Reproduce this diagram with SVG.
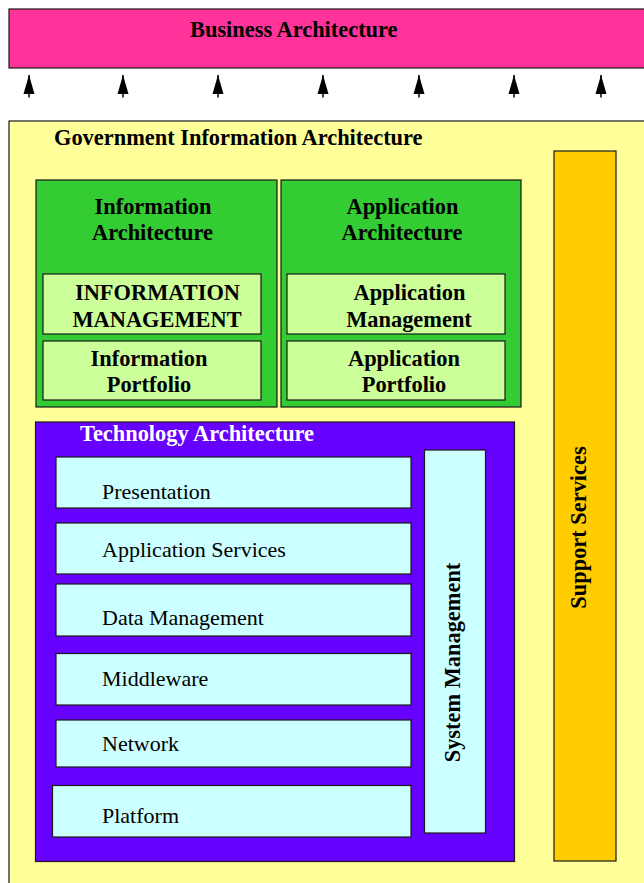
<svg xmlns="http://www.w3.org/2000/svg" width="644" height="883" viewBox="0 0 644 883">
<style>
.box{stroke:#1a1a1a;stroke-width:1.2}
.t{font-family:"Liberation Serif","Times New Roman",serif;font-size:22px;fill:#000}
.b{font-weight:bold;font-size:22.4px}
.c{text-anchor:middle}
</style>
<defs>
<marker id="ah" markerWidth="19" markerHeight="12" refX="19" refY="6" orient="auto" markerUnits="userSpaceOnUse" viewBox="0 0 19 12">
<path d="M19,6 L0,0.5 L0,11.5 Z" fill="#000"/>
</marker>
</defs>
<rect width="644" height="883" fill="#fff"/>
<g id="business">
<rect class="box" x="9" y="9" width="650" height="59" fill="#FF3399"/>
<text class="t b" x="190" y="37">Business Architecture</text>
</g>
<g id="connectors" stroke="#000" stroke-width="1.5">
<line x1="29" y1="97.5" x2="29" y2="75" marker-end="url(#ah)"/>
<line x1="123" y1="97.5" x2="123" y2="75" marker-end="url(#ah)"/>
<line x1="218" y1="97.5" x2="218" y2="75" marker-end="url(#ah)"/>
<line x1="323" y1="97.5" x2="323" y2="75" marker-end="url(#ah)"/>
<line x1="419" y1="97.5" x2="419" y2="75" marker-end="url(#ah)"/>
<line x1="514" y1="97.5" x2="514" y2="75" marker-end="url(#ah)"/>
<line x1="601" y1="97.5" x2="601" y2="75" marker-end="url(#ah)"/>
</g>
<g id="government">
<rect class="box" x="9" y="121" width="650" height="780" fill="#FFFF99"/>
<text class="t b" x="54" y="145">Government Information Architecture</text>
</g>
<g id="support">
<rect class="box" x="554" y="151" width="62" height="710" fill="#FFCC00"/>
<text class="t b c" transform="translate(586,527.5) rotate(-90)">Support Services</text>
</g>
<g id="info-arch">
<rect class="box" x="36" y="180" width="241" height="227" fill="#33CC33"/>
<text class="t b c" x="153" y="214">Information</text>
<text class="t b c" x="152.5" y="240">Architecture</text>
</g>
<g id="info-mgmt">
<rect class="box" x="43" y="274" width="218" height="60" fill="#CCFF99"/>
<text class="t b c" x="157.5" y="300">INFORMATION</text>
<text class="t b c" x="157" y="326.5">MANAGEMENT</text>
</g>
<g id="info-portfolio">
<rect class="box" x="43" y="341" width="218" height="59" fill="#CCFF99"/>
<text class="t b c" x="149" y="366">Information</text>
<text class="t b c" x="149" y="392">Portfolio</text>
</g>
<g id="app-arch">
<rect class="box" x="281" y="180" width="240" height="227" fill="#33CC33"/>
<text class="t b c" x="402.5" y="214">Application</text>
<text class="t b c" x="402" y="240">Architecture</text>
</g>
<g id="app-mgmt">
<rect class="box" x="287" y="274" width="218" height="60" fill="#CCFF99"/>
<text class="t b c" x="409.5" y="300">Application</text>
<text class="t b c" x="409" y="326.5">Management</text>
</g>
<g id="app-portfolio">
<rect class="box" x="287" y="341" width="218" height="59" fill="#CCFF99"/>
<text class="t b c" x="404" y="366">Application</text>
<text class="t b c" x="404" y="392">Portfolio</text>
</g>
<g id="tech-arch">
<rect class="box" x="35.5" y="422" width="479" height="439.5" fill="#6600FF"/>
<text class="t b" x="80" y="441" style="fill:#fff">Technology Architecture</text>
</g>
<g id="presentation">
<rect class="box" x="56" y="457" width="355" height="51" fill="#CCFFFF"/>
<text class="t" x="102" y="499">Presentation</text>
</g>
<g id="app-services">
<rect class="box" x="56" y="523" width="355" height="51" fill="#CCFFFF"/>
<text class="t" x="102" y="557">Application Services</text>
</g>
<g id="data-mgmt">
<rect class="box" x="56" y="584" width="355" height="52" fill="#CCFFFF"/>
<text class="t" x="102" y="625">Data Management</text>
</g>
<g id="middleware">
<rect class="box" x="56" y="653.5" width="355" height="51.5" fill="#CCFFFF"/>
<text class="t" x="102" y="686">Middleware</text>
</g>
<g id="network">
<rect class="box" x="56" y="720" width="355" height="47" fill="#CCFFFF"/>
<text class="t" x="102" y="751">Network</text>
</g>
<g id="platform">
<rect class="box" x="52.5" y="785.5" width="358.5" height="51.5" fill="#CCFFFF"/>
<text class="t" x="102" y="823">Platform</text>
</g>
<g id="system-mgmt">
<rect class="box" x="424.5" y="450" width="61" height="383" fill="#CCFFFF"/>
<text class="t b c" transform="translate(459.5,662.5) rotate(-90)">System Management</text>
</g>
</svg>
